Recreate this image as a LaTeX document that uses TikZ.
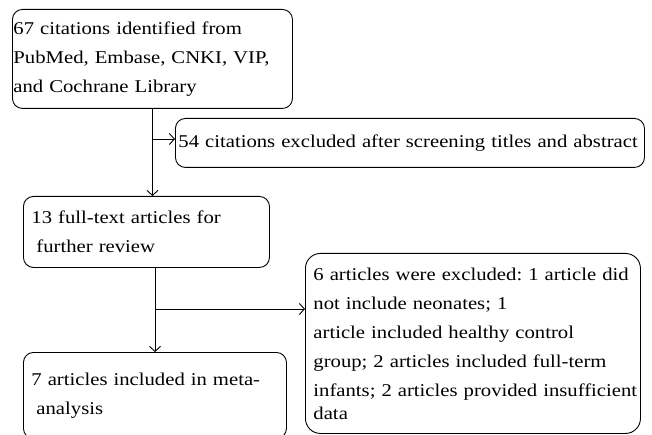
\documentclass[tikz,border=0pt]{standalone}
\usepackage{fontspec}
\setmainfont{Liberation Serif}[FakeStretch=1.15]
\usepackage{tikz}
\usetikzlibrary{arrows.meta}
\frenchspacing

\begin{document}
\begin{tikzpicture}[x=1pt, y=-1pt,
    box/.style={draw=black, line width=0.9pt, rounded corners=10pt, anchor=north west,
      align=left, inner ysep=0pt, font={\fontsize{18pt}{29pt}\selectfont}},
    arr/.style={-{Straight Barb[length=5pt, width=11pt]}, line width=0.9pt}]
    \useasboundingbox (0,0) rectangle (652,435);
    \node[box, inner xsep=1pt, text width=278pt, minimum height=99pt] at (12,9) (B1)
      {67 citations identified from\\PubMed, Embase, CNKI, VIP,\\and Cochrane Library};
    \node[box, inner xsep=3pt, text width=463pt, minimum height=49pt] at (175,118) (B2)
      {\mbox{54 citations excluded after screening titles and abstract}};
    \node[box, inner xsep=8pt, text width=230pt, minimum height=71pt] at (23,196) (B3)
      {13 full-text articles for\\\hspace*{5pt}further review};
    \node[box, inner xsep=8pt, text width=247pt, minimum height=86pt] at (23,352) (B4)
      {7 articles included in meta-\\\hspace*{5pt}analysis};
    \node[box, inner xsep=8pt, rounded corners=15pt, text width=319pt, minimum height=180pt] at (305,253) (B5)
      {\mbox{6 articles were excluded: 1 article did}\\not include neonates; 1\\article included healthy control\\group; 2 articles included full-term\\\mbox{infants; 2 articles provided insufficient}\\[-6pt]data};
    \coordinate (S1) at (152,139);
    \coordinate (S2) at (155,309);
    \draw [arr] (B1.south) -- (B1.south |- B3.north);
    \draw [arr] (S1) -- (S1 -| B2.west);
    \draw [arr] (B3.south -| S2) -- (S2 |- B4.north);
    \draw [arr] (S2) -- (S2 -| B5.west);
\end{tikzpicture}
\end{document}
